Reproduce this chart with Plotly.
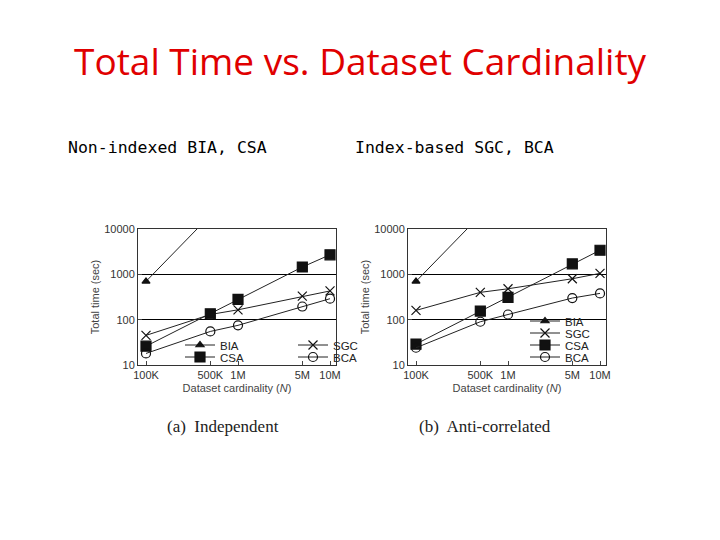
import plotly.graph_objects as go

N = [1e5, 5e5, 1e6, 5e6, 1e7]
NL = ["100K", "500K", "1M", "5M", "10M"]
# (a) Independent
a_BIA = [700, 20000, None, None, None]
a_SGC = [45, 130, 165, 330, 430]
a_CSA = [26, 135, 280, 1450, 2700]
a_BCA = [18, 55, 75, 195, 290]
# (b) Anti-correlated
b_BIA = [700, 20000, None, None, None]
b_SGC = [160, 400, 480, 800, 1050]
b_CSA = [29, 155, 310, 1700, 3400]
b_BCA = [24, 90, 130, 300, 380]

SERIES = ["BIA", "SGC", "CSA", "BCA"]
styles = {"BIA": ("triangle-up", 7), "SGC": ("x-thin", 9), "CSA": ("square", 10), "BCA": ("circle-open", 9)}
OFF = 8  # page body offset in px


def px(x):
    return (x - OFF) / 720


def py(y):
    return 1 - (y - OFF) / 540


left_leg = {"BIA": "legend", "SGC": "legend", "CSA": "legend3", "BCA": "legend3"}
right_leg = {"BIA": "legend4", "SGC": "legend5", "CSA": "legend6", "BCA": "legend7"}

fig = go.Figure()
for data, xa, ya, side in [((a_BIA, a_SGC, a_CSA, a_BCA), "x", "y", "a"),
                           ((b_BIA, b_SGC, b_CSA, b_BCA), "x2", "y2", "b")]:
    for name, vals in zip(SERIES, data):
        sym, sz = styles[name]
        lg = left_leg[name] if side == "a" else right_leg[name]
        fig.add_trace(go.Scatter(x=N, y=vals, name=name, xaxis=xa, yaxis=ya, legend=lg,
                                 mode="lines+markers", connectgaps=False,
                                 line=dict(color="#222", width=1),
                                 marker=dict(symbol=sym, size=sz, color="#111",
                                             line=dict(color="#111", width=1.2))))

ax = dict(type="log", range=[4.913, 7.065], tickvals=N, ticktext=NL, showgrid=False,
          showline=True, mirror=True, linecolor="#333", linewidth=1, ticks="inside", ticklen=4,
          tickfont=dict(family="Liberation Sans", size=11, color="#333"),
          title=dict(text="Dataset cardinality (<i>N</i>)", font=dict(family="Liberation Sans", size=11, color="#444"), standoff=4))
ay = dict(type="log", range=[1, 4], tickvals=[10, 100, 1000, 10000], ticktext=["10", "100", "1000", "10000"],
          showgrid=True, gridcolor="#000", gridwidth=1, showline=True, mirror=True, linecolor="#333",
          linewidth=1, ticks="inside", ticklen=4, zeroline=False,
          tickfont=dict(family="Liberation Sans", size=11, color="#333"),
          title=dict(text="Total time (sec)", font=dict(family="Liberation Sans", size=11, color="#444"), standoff=2))

legfont = dict(family="Liberation Sans", size=11.5, color="#222")
layout_legends = dict(
    legend=dict(orientation="h", x=px(180), y=py(345), xanchor="left", yanchor="middle", entrywidth=68,
                bgcolor="rgba(0,0,0,0)", font=legfont, itemwidth=30),
    legend3=dict(orientation="h", x=px(180), y=py(357), xanchor="left", yanchor="middle", entrywidth=68,
                 bgcolor="rgba(0,0,0,0)", font=legfont, itemwidth=30),
)
for i, name in enumerate(SERIES):
    layout_legends[right_leg[name]] = dict(orientation="h", x=px(525), y=py(321 + 12 * i), xanchor="left",
                                           yanchor="middle", bgcolor="rgba(0,0,0,0)", font=legfont, itemwidth=30)

fig.update_layout(
    width=720, height=540, margin=dict(l=0, r=0, t=0, b=0, autoexpand=False),
    paper_bgcolor="white", plot_bgcolor="white",
    xaxis=dict(ax, domain=[px(138), px(336)], anchor="y"),
    yaxis=dict(ay, domain=[py(365), py(229)], anchor="x"),
    xaxis2=dict(ax, domain=[px(408), px(606)], anchor="y2"),
    yaxis2=dict(ay, domain=[py(365), py(229)], anchor="x2"),
    showlegend=True,
    **layout_legends,
)
ann = [
    dict(text="Total Time vs. Dataset Cardinality", x=px(360), y=py(60), font=dict(family="Open Sans", size=37, color="#e00000")),
    dict(text="Non-indexed BIA, CSA", x=px(66), y=py(147), xanchor="left", font=dict(family="DejaVu Sans Mono", size=16.5, color="black")),
    dict(text="Index-based SGC, BCA", x=px(353), y=py(147), xanchor="left", font=dict(family="DejaVu Sans Mono", size=16.5, color="black")),
    dict(text="(a)  Independent", x=px(223), y=py(426), font=dict(family="Liberation Serif", size=17, color="#222")),
    dict(text="(b)  Anti-correlated", x=px(485), y=py(426), font=dict(family="Liberation Serif", size=17, color="#222")),
]
for a in ann:
    a.update(xref="paper", yref="paper", showarrow=False, yanchor="middle")
    a.setdefault("xanchor", "center")
    fig.add_annotation(**a)

fig.write_html("out.html")
